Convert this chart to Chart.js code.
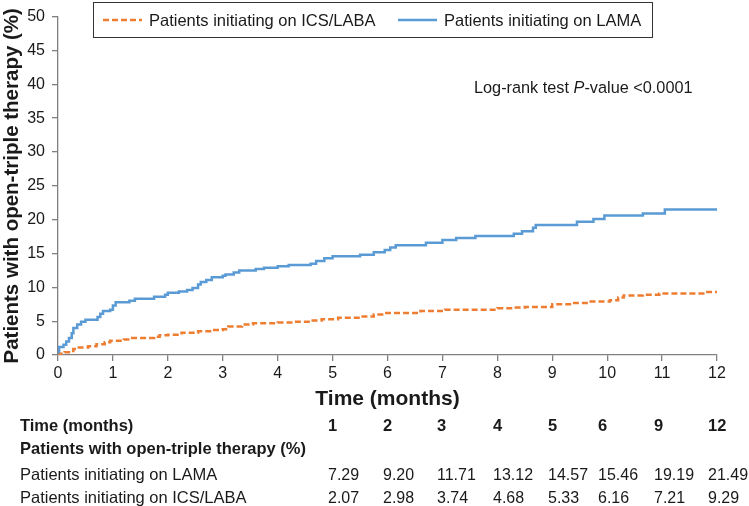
<!DOCTYPE html>
<html>
<head>
<meta charset="utf-8">
<script src="https://cdn.jsdelivr.net/npm/chart.js@4.4.1/dist/chart.umd.min.js"></script>
<style>
  html, body { margin: 0; padding: 0; background: #fff; }
  #wrap { position: relative; width: 749px; height: 506px; }
</style>
</head>
<body>
<div id="wrap"><canvas id="chart" width="749" height="506"></canvas></div>
<script>
// Kaplan-Meier style step data (months, % of patients)
const lamaMonths = [0, 0.02, 0.1, 0.15, 0.2, 0.25, 0.28, 0.35, 0.42, 0.5, 0.72, 0.77, 0.82, 0.95, 1.0, 1.05,
  1.3, 1.4, 1.75, 1.95, 2.0, 2.2, 2.35, 2.45, 2.55, 2.6, 2.7, 2.8, 3.0, 3.05, 3.2, 3.3, 3.6, 3.75, 4.0,
  4.2, 4.6, 4.7, 4.85, 5.0, 5.5, 5.75, 5.95, 6.05, 6.15, 6.7, 7.0, 7.25, 7.6, 8.3, 8.45, 8.65, 8.7,
  9.45, 9.75, 9.95, 10.65, 11.05, 12];
const lamaPct = [0, 1.2, 1.5, 2.0, 2.5, 3.2, 4.0, 4.5, 4.9, 5.2, 5.6, 6.1, 6.5, 6.7, 7.3, 7.8,
  8.0, 8.3, 8.6, 8.9, 9.2, 9.4, 9.6, 9.9, 10.4, 10.8, 11.1, 11.5, 11.7, 11.9, 12.2, 12.5, 12.7, 12.9, 13.1,
  13.3, 13.5, 13.9, 14.3, 14.6, 14.8, 15.2, 15.5, 15.9, 16.2, 16.6, 17.0, 17.3, 17.6, 17.9, 18.3, 18.8, 19.2,
  19.7, 20.1, 20.6, 20.9, 21.5, 21.5];

const icsMonths = [0, 0.05, 0.12, 0.2, 0.28, 0.35, 0.55, 0.7, 0.85, 0.95, 1.2, 1.35, 1.75, 1.85, 2.0,
  2.25, 2.55, 2.8, 3.0, 3.1, 3.35, 3.55, 4.0, 4.3, 4.6, 4.8, 5.1, 5.5, 5.75, 5.95, 6.6, 7.05, 8.0,
  8.3, 8.5, 9.0, 9.35, 9.7, 10.05, 10.2, 10.3, 10.65, 10.95, 11.75, 12];
const icsPct = [0, 0.2, 0.4, 0.6, 0.9, 1.1, 1.3, 1.6, 1.9, 2.1, 2.3, 2.5, 2.7, 2.9, 3.0,
  3.3, 3.5, 3.7, 3.8, 4.2, 4.5, 4.7, 4.8, 4.9, 5.1, 5.3, 5.5, 5.7, 6.0, 6.2, 6.5, 6.7, 6.9,
  7.0, 7.1, 7.5, 7.7, 7.9, 8.1, 8.5, 8.8, 8.9, 9.1, 9.3, 9.3];

const seriesNames = ['Patients initiating on ICS/LABA', 'Patients initiating on LAMA'];

// summary table under the chart
const tableMonths = ['1', '2', '3', '4', '5', '6', '9', '12'];
const tableLama = ['7.29', '9.20', '11.71', '13.12', '14.57', '15.46', '19.19', '21.49'];
const tableIcs = ['2.07', '2.98', '3.74', '4.68', '5.33', '6.16', '7.21', '9.29'];

const FONT = "'Liberation Sans', Arial, sans-serif";
const ORANGE = '#ED7D31';
const BLUE = '#5B9BD5';
const AXIS = '#808080';
const INK = '#1a1a1a';

const toPoints = (xs, ys) => xs.map((x, i) => ({ x, y: ys[i] }));

const legendBox = {
  id: 'legendBox',
  afterDraw(chart) {
    const ctx = chart.ctx;
    ctx.save();
    ctx.strokeStyle = '#333';
    ctx.lineWidth = 1;
    ctx.strokeRect(93.5, 2.5, 559, 35);

    const items = [
      { ds: chart.data.datasets[0], x: 103 },
      { ds: chart.data.datasets[1], x: 398 },
    ];
    ctx.font = `16.5px ${FONT}`;
    ctx.textBaseline = 'alphabetic';
    items.forEach(({ ds, x }) => {
      ctx.beginPath();
      ctx.setLineDash(ds.borderDash || []);
      ctx.strokeStyle = ds.borderColor;
      ctx.lineWidth = 2.5;
      ctx.moveTo(x, 20);
      ctx.lineTo(x + 39, 20);
      ctx.stroke();
      ctx.setLineDash([]);
      ctx.fillStyle = INK;
      ctx.fillText(ds.label, x + 46, 25.5);
    });

    // log-rank annotation with italic P
    let tx = 474;
    const ty = 93;
    ctx.font = `16.3px ${FONT}`;
    ctx.fillText('Log-rank test ', tx, ty);
    tx += ctx.measureText('Log-rank test ').width;
    ctx.font = `italic 16.3px ${FONT}`;
    ctx.fillText('P', tx, ty);
    tx += ctx.measureText('P').width;
    ctx.font = `16.3px ${FONT}`;
    ctx.fillText('-value <0.0001', tx, ty);
    ctx.restore();
  },
};

const summaryTable = {
  id: 'summaryTable',
  afterDraw(chart) {
    const ctx = chart.ctx;
    const colX = [328, 383, 437, 493, 548, 598, 654, 708];
    ctx.save();
    ctx.fillStyle = INK;
    ctx.textBaseline = 'alphabetic';
    ctx.textAlign = 'left';

    ctx.font = `bold 16.5px ${FONT}`;
    ctx.fillText('Time (months)', 20, 431);
    tableMonths.forEach((m, i) => ctx.fillText(m, colX[i], 431));
    ctx.fillText('Patients with open-triple therapy (%)', 20, 454);

    ctx.font = `16.5px ${FONT}`;
    ctx.fillText(seriesNames[1], 20, 480);
    ctx.fillText(seriesNames[0], 20, 503);
    ctx.font = `16px ${FONT}`;
    tableLama.forEach((v, i) => ctx.fillText(v, colX[i], 480));
    tableIcs.forEach((v, i) => ctx.fillText(v, colX[i], 503));
    ctx.restore();
  },
};

new Chart(document.getElementById('chart'), {
  type: 'line',
  data: {
    datasets: [
      {
        label: seriesNames[0],
        data: toPoints(icsMonths, icsPct),
        borderColor: ORANGE,
        borderWidth: 2.5,
        borderDash: [6, 3],
        stepped: true,
        pointRadius: 0,
        fill: false,
      },
      {
        label: seriesNames[1],
        data: toPoints(lamaMonths, lamaPct),
        borderColor: BLUE,
        borderWidth: 2.5,
        stepped: true,
        pointRadius: 0,
        fill: false,
      },
    ],
  },
  options: {
    responsive: false,
    animation: false,
    devicePixelRatio: 1,
    layout: { padding: { left: 0, right: 32, top: 5, bottom: 94 } },
    plugins: {
      legend: { display: false },
      tooltip: { enabled: false },
    },
    scales: {
      x: {
        type: 'linear',
        min: 0,
        max: 12,
        afterFit: (scale) => { scale.height = 57; },
        ticks: { stepSize: 1, color: INK, font: { family: FONT, size: 16 }, padding: 3, maxRotation: 0 },
        grid: { drawOnChartArea: false, drawTicks: true, tickLength: 6, color: AXIS, lineWidth: 1.3 },
        border: { display: true, color: AXIS, width: 1.3 },
        title: {
          display: true,
          text: 'Time (months)',
          color: INK,
          font: { family: FONT, size: 21, weight: 'bold' },
          padding: 0,
        },
      },
      y: {
        min: 0,
        max: 50,
        afterFit: (scale) => { scale.width = 58; },
        ticks: { stepSize: 5, color: INK, font: { family: FONT, size: 16 }, padding: 7 },
        grid: { drawOnChartArea: false, drawTicks: true, tickLength: 6, color: AXIS, lineWidth: 1.3 },
        border: { display: true, color: AXIS, width: 1.3 },
        title: {
          display: true,
          text: 'Patients with open-triple therapy (%)',
          color: INK,
          font: { family: FONT, size: 20.5, weight: 'bold' },
          padding: 0,
        },
      },
    },
  },
  plugins: [legendBox, summaryTable],
});
</script>
</body>
</html>
